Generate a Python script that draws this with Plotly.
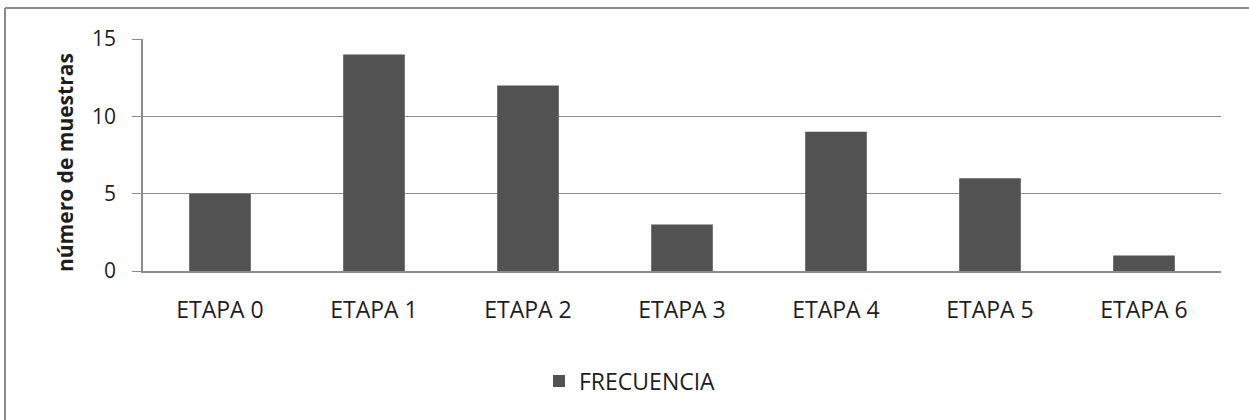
import plotly.graph_objects as go

etapas = ["ETAPA 0", "ETAPA 1", "ETAPA 2", "ETAPA 3", "ETAPA 4", "ETAPA 5", "ETAPA 6"]
frecuencia = [5, 14, 12, 3, 9, 6, 1]
y_ticks = [0, 5, 10, 15]

W, H = 1249, 420
L, R, T, B = 143, 28, 39, 149
pw, ph = W - L - R, H - T - B

def px_x(p):
    return (p - L) / pw

def px_y(p):
    return (H - B - p) / ph

fig = go.Figure()
fig.add_trace(go.Bar(
    x=etapas, y=frecuencia, name="FRECUENCIA",
    marker=dict(color="#525252", line=dict(width=0)),
    width=0.4,
))

font = "Open Sans, sans-serif"
txt = "#1e1e1e"
grey = "#8c8c8c"
fig.update_layout(
    width=W, height=H,
    margin=dict(l=L, r=R, t=T, b=B, autoexpand=False),
    paper_bgcolor="white", plot_bgcolor="white",
    font=dict(family=font, color=txt),
    showlegend=True,
    legend=dict(orientation="h", x=px_x(539), xanchor="left", y=px_y(381), yanchor="middle",
                font=dict(size=23, family=font, color=txt),
                itemwidth=30),
    xaxis=dict(showgrid=False, showline=True, linecolor=grey, linewidth=1.5,
               ticks="", tickfont=dict(size=23, family=font, color=txt),
               ticklabelstandoff=18),
    yaxis=dict(range=[0, 15], tickvals=y_ticks, showgrid=True, gridcolor=grey,
               gridwidth=1.2, showline=True, linecolor=grey, linewidth=1.5,
               ticks="outside", ticklen=9, tickcolor=grey, tickwidth=1.2,
               tickfont=dict(size=21, family=font, color=txt),
               ticklabelstandoff=12,
               zeroline=False),
)

# y-axis title
fig.add_annotation(text="<b>número de muestras</b>", xref="paper", yref="paper",
                   x=px_x(65), y=px_y(163), xanchor="center", yanchor="middle",
                   textangle=-90, showarrow=False,
                   font=dict(size=21, family=font, color=txt))

# chart-area frame (left and top edges)
fig.add_shape(type="line", xref="paper", yref="paper",
              x0=px_x(5), x1=px_x(5), y0=px_y(8), y1=px_y(430),
              line=dict(color=grey, width=2))
fig.add_shape(type="line", xref="paper", yref="paper",
              x0=px_x(5), x1=px_x(1260), y0=px_y(8), y1=px_y(8),
              line=dict(color=grey, width=2))

fig.write_html("out.html")
